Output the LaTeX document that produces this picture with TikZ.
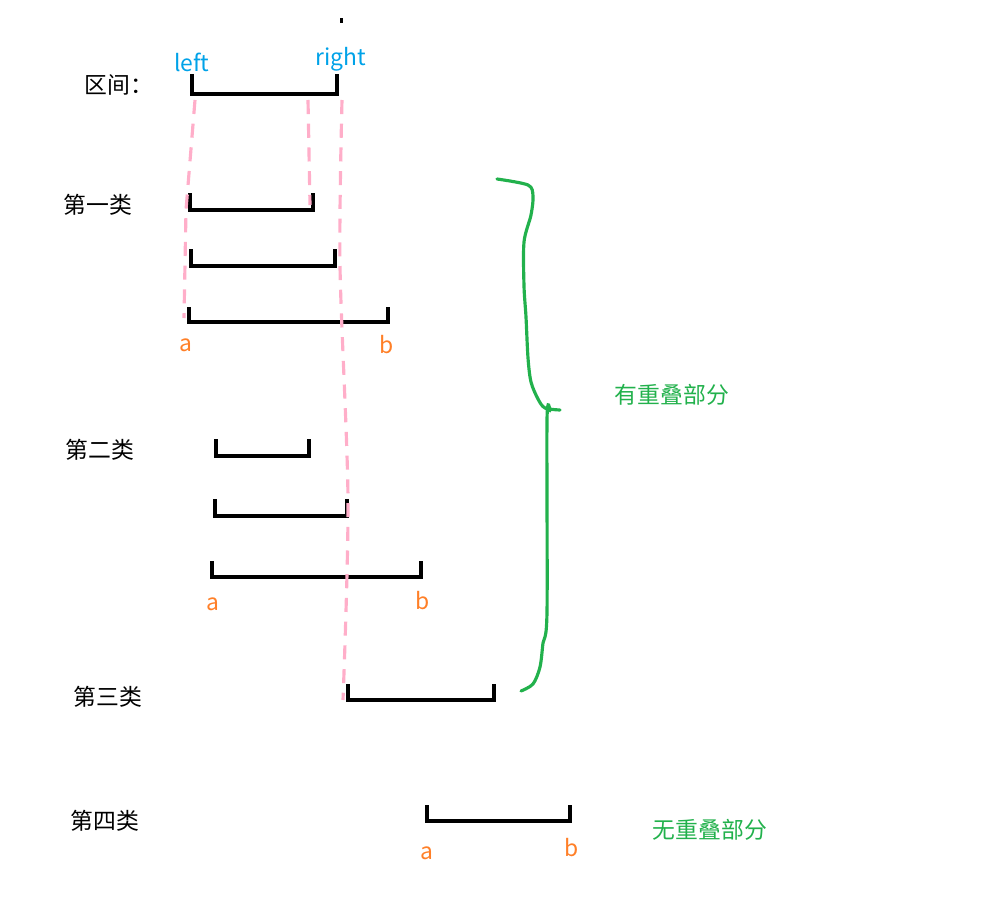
\documentclass[tikz,border=0pt]{standalone}
\usepackage{fontspec}
\setmainfont{Noto Sans CJK SC}
\usepackage{xcolor}
\usetikzlibrary{calc}
\definecolor{endblue}{HTML}{00A2E8}
\definecolor{endorange}{HTML}{FF7F27}
\definecolor{bracegreen}{HTML}{22B14C}
\definecolor{guidepink}{HTML}{FFAEC9}

\begin{document}
\begin{tikzpicture}[x=0.02cm, y=-0.02cm]
        \tikzset{seg/.style={line width=2.2pt, black}}
        \tikzset{guide/.style={line width=1.8pt, draw=guidepink, dash pattern=on 8pt off 5.5pt}}
        \tikzset{lbl/.style={font=\fontsize{13}{15}\selectfont}}
        \tikzset{endlbl/.style={font=\fontsize{13}{15}\selectfont, text=endorange}}

        \useasboundingbox (0,0) rectangle (987,909);
        \fill (340,18) rectangle (343,23);

        % class names
        \node[lbl] (range) at (119,85) {区间：};
        \node[lbl] (c1) at (98,205) {第一类};
        \node[lbl] (c2) at (100,450) {第二类};
        \node[lbl] (c3) at (108,697) {第三类};
        \node[lbl] (c4) at (105,821) {第四类};

        % intervals
        \foreach \n/\l/\r/\y/\h in {i0/192/337/94/20, i1/190/313/210/17, i2/191/335/266/17,
            i3/189/388/322/15, i4/216/309/456/17, i5/215/347/516/17, i6/212/421/577/16,
            i7/348/494/700/16, i8/427/570/821/16}{
            \coordinate (\n-l) at (\l,\y);
            \coordinate (\n-r) at (\r,\y);
            \draw[seg] ($(\n-l)+(0,-\h)$) -- (\n-l) -- (\n-r) -- ($(\n-r)+(0,-\h)$);
        }

        \node[text=endblue, lbl] (left) at (192,62) {left};
        \node[text=endblue, lbl] (right) at (341,59) {right};

        \node[endlbl] (a1) at (186,345) {a};
        \node[endlbl] (b1) at (387,345) {b};
        \node[endlbl] (a2) at (213,604) {a};
        \node[endlbl] (b2) at (423,601) {b};
        \node[endlbl] (a4) at (427,853) {a};
        \node[endlbl] (b4) at (572,848) {b};

        % guides
        \draw[guide] (195,100) -- (186,210) -- (184,318);
        \draw[guide] (308,100) -- (310,205);
        \draw[guide] plot[smooth] coordinates {(342,100) (340,266) (348,500) (343,700)};

        % brace
        \draw[bracegreen, line width=1.8pt, line cap=round] plot[smooth, tension=0.5] coordinates {(497,179) (528,185) (533,196) (531,215)
            (524,242) (524,286) (526,317) (528,358) (531,382) (538,399) (545,408) (560,410)};
        \draw[bracegreen, line width=1.8pt, line cap=round] plot[smooth, tension=0.5] coordinates {(550,411) (547,420) (547,612)
            (543,643) (540,667) (533,684) (521,691)};

        \node[lbl, text=bracegreen] (overlap) at (672,395) {有重叠部分};
        \node[lbl, text=bracegreen] (nooverlap) at (710,830) {无重叠部分};
    \end{tikzpicture}
\end{document}
